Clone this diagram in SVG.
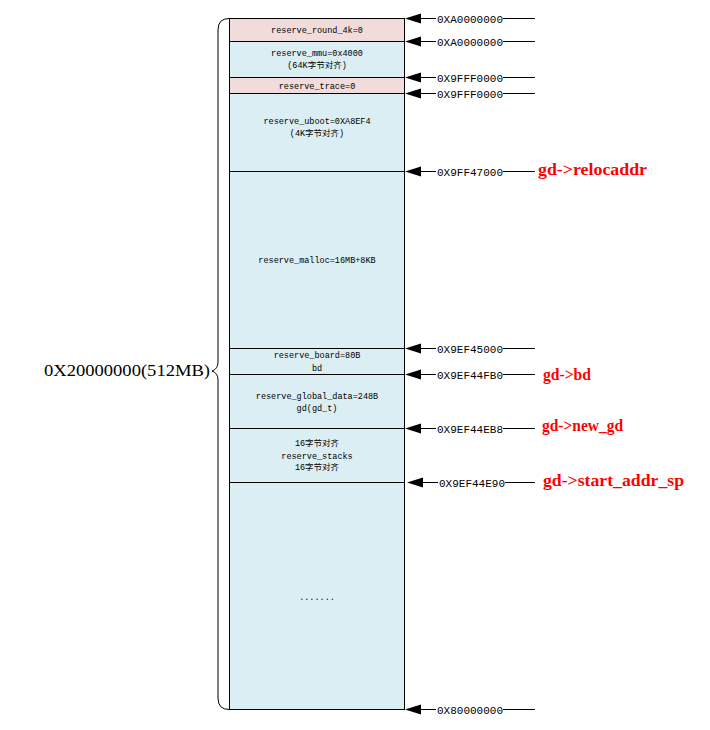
<svg xmlns="http://www.w3.org/2000/svg" width="710" height="730" viewBox="0 0 710 730">
<style>
.pink{fill:#f2dcdb;stroke:#000;stroke-width:1}
.blue{fill:#dbeef3;stroke:#000;stroke-width:1}
.t{font-family:"Liberation Mono","Noto Sans CJK SC",monospace;font-size:8.5px;fill:#000;text-anchor:middle}
.a{font-family:"Liberation Mono",monospace;font-size:11px;fill:#000}
.r{font-family:"Liberation Serif",serif;font-size:16px;font-weight:bold;fill:#ff0000}
.ln{stroke:#000;stroke-width:1;fill:none}
</style>
<rect width="710" height="730" fill="#fff"/>
<g id="blocks">
<g id="n_round"><rect class="pink" x="229.5" y="18.5" width="175" height="23"/><text class="t" x="317" y="33">reserve_round_4k=0</text></g>
<g id="n_mmu"><rect class="blue" x="229.5" y="41.5" width="175" height="36"/><text class="t" x="317" y="56">reserve_mmu=0x4000</text><text class="t" x="317" y="68">(64K字节对齐)</text></g>
<g id="n_trace"><rect class="pink" x="229.5" y="77.5" width="175" height="16"/><text class="t" x="317" y="89">reserve_trace=0</text></g>
<g id="n_uboot"><rect class="blue" x="229.5" y="93.5" width="175" height="78"/><text class="t" x="317" y="124">reserve_uboot=0XA8EF4</text><text class="t" x="317" y="136">(4K字节对齐)</text></g>
<g id="n_malloc"><rect class="blue" x="229.5" y="171.5" width="175" height="177"/><text class="t" x="317" y="263">reserve_malloc=16MB+8KB</text></g>
<g id="n_board"><rect class="blue" x="229.5" y="348.5" width="175" height="26"/><text class="t" x="317" y="358">reserve_board=80B</text><text class="t" x="317" y="371">bd</text></g>
<g id="n_gd"><rect class="blue" x="229.5" y="374.5" width="175" height="54"/><text class="t" x="317" y="399">reserve_global_data=248B</text><text class="t" x="317" y="411">gd(gd_t)</text></g>
<g id="n_stacks"><rect class="blue" x="229.5" y="428.5" width="175" height="54"/><text class="t" x="317" y="446">16字节对齐</text><text class="t" x="317" y="459">reserve_stacks</text><text class="t" x="317" y="470">16字节对齐</text></g>
<g id="n_rest"><rect class="blue" x="229.5" y="482.5" width="175" height="227"/><text class="t" x="317" y="600">.......</text></g>
</g>
<g id="brace">
<path class="ln" d="M229,18.5 Q218,18.5 218,30 L218,362 Q218,369 212,371 Q218,373 218,380 L218,698 Q218,709.5 229,709.5"/>
<text x="44" y="376" font-family="Liberation Serif,serif" font-size="16" textLength="166" lengthAdjust="spacingAndGlyphs">0X20000000(512MB)</text>
</g>
<g id="connectors">
<line class="ln" x1="420" y1="18.5" x2="436" y2="18.5"/>
<line class="ln" x1="503" y1="18.5" x2="535" y2="18.5"/>
<line class="ln" x1="420" y1="41.5" x2="436" y2="41.5"/>
<line class="ln" x1="503" y1="41.5" x2="535" y2="41.5"/>
<line class="ln" x1="420" y1="77.5" x2="436" y2="77.5"/>
<line class="ln" x1="503" y1="77.5" x2="535" y2="77.5"/>
<line class="ln" x1="420" y1="93.5" x2="436" y2="93.5"/>
<line class="ln" x1="503" y1="93.5" x2="535" y2="93.5"/>
<line class="ln" x1="420" y1="171.5" x2="436" y2="171.5"/>
<line class="ln" x1="503" y1="171.5" x2="535" y2="171.5"/>
<line class="ln" x1="420" y1="348.5" x2="436" y2="348.5"/>
<line class="ln" x1="503" y1="348.5" x2="535" y2="348.5"/>
<line class="ln" x1="420" y1="374.5" x2="436" y2="374.5"/>
<line class="ln" x1="503" y1="374.5" x2="535" y2="374.5"/>
<line class="ln" x1="420" y1="428.5" x2="436" y2="428.5"/>
<line class="ln" x1="503" y1="428.5" x2="535" y2="428.5"/>
<line class="ln" x1="420" y1="482.5" x2="438" y2="482.5"/>
<line class="ln" x1="505" y1="482.5" x2="535" y2="482.5"/>
<line class="ln" x1="420" y1="709.5" x2="436" y2="709.5"/>
<line class="ln" x1="503" y1="709.5" x2="535" y2="709.5"/>
<g fill="#000">
<path d="M405,18.5 L421,13.5 L421,23.5 Z"/>
<path d="M405,41.5 L421,36.5 L421,46.5 Z"/>
<path d="M405,77.5 L421,72.5 L421,82.5 Z"/>
<path d="M405,93.5 L421,88.5 L421,98.5 Z"/>
<path d="M405,171.5 L421,166.5 L421,176.5 Z"/>
<path d="M405,348.5 L421,343.5 L421,353.5 Z"/>
<path d="M405,374.5 L421,369.5 L421,379.5 Z"/>
<path d="M405,428.5 L421,423.5 L421,433.5 Z"/>
<path d="M407,482.5 L423,477.5 L423,487.5 Z"/>
<path d="M405,709.5 L421,704.5 L421,714.5 Z"/>
</g>
</g>
<g id="labels">
<text class="a" x="437" y="22.5">0XA0000000</text>
<text class="a" x="437" y="45.5">0XA0000000</text>
<text class="a" x="437" y="81.5">0X9FFF0000</text>
<text class="a" x="437" y="97.5">0X9FFF0000</text>
<text class="a" x="437" y="175.5">0X9FF47000</text>
<text class="a" x="437" y="352.5">0X9EF45000</text>
<text class="a" x="437" y="378.5">0X9EF44FB0</text>
<text class="a" x="437" y="432.5">0X9EF44EB8</text>
<text class="a" x="439" y="486.5">0X9EF44E90</text>
<text class="a" x="437" y="713.5">0X80000000</text>
<text class="r" x="538" y="175" textLength="109" lengthAdjust="spacingAndGlyphs">gd-&gt;relocaddr</text>
<text class="r" x="543" y="380" textLength="48" lengthAdjust="spacingAndGlyphs">gd-&gt;bd</text>
<text class="r" x="542" y="431" textLength="81" lengthAdjust="spacingAndGlyphs">gd-&gt;new_gd</text>
<text class="r" x="543" y="486" textLength="141" lengthAdjust="spacingAndGlyphs">gd-&gt;start_addr_sp</text>
</g>
</svg>
